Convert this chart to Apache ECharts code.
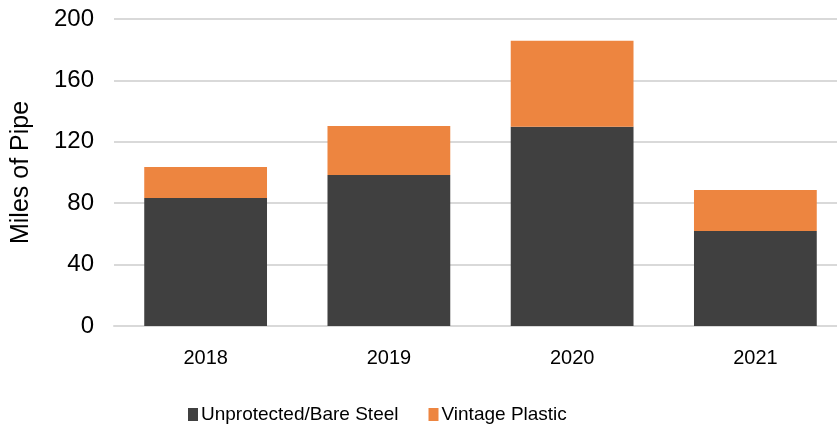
<!DOCTYPE html>
<html lang="en">
<head>
    <meta charset="UTF-8">
    <title>Miles of Pipe</title>
    <script src="https://cdn.jsdelivr.net/npm/echarts@6/dist/echarts.min.js"></script>
    <style>
        html, body { margin: 0; padding: 0; background: #fff; overflow: hidden; }
        /* plot runs past the right edge in the original, so the canvas is a bit wider than the window */
        #chart { width: 847px; height: 426px; }
    </style>
</head>
<body>
<div id="chart"></div>
<script>
    // data
    var years = ['2018', '2019', '2020', '2021'];
    var bareSteel = [83.4, 98.4, 129.8, 61.9];
    var vintagePlastic = [20.2, 31.9, 56.1, 26.7];
    var yTicks = [0, 40, 80, 120, 160, 200];

    var font = 'Liberation Sans, Arial, sans-serif';
    var chart = echarts.init(document.getElementById('chart'));

    var option = {
        animation: false,
        color: ['#404040', '#ed8540'],
        textStyle: { fontFamily: font, color: '#000' },
        grid: { left: 114, top: 19, right: 0, bottom: 100 },
        legend: {
            left: 183,
            top: 400,
            itemWidth: 10,
            itemHeight: 13,
            itemGap: 30,
            icon: 'rect',
            textStyle: { fontSize: 19, color: '#000', padding: [0, 0, 0, -2] },
            data: ['Unprotected/Bare Steel', 'Vintage Plastic']
        },
        xAxis: {
            type: 'category',
            data: years,
            axisTick: { show: false },
            axisLine: { lineStyle: { color: '#d9d9d9', width: 2 } },
            axisLabel: { fontSize: 20, color: '#000', margin: 22 }
        },
        yAxis: {
            type: 'value',
            min: yTicks[0],
            max: yTicks[yTicks.length - 1],
            interval: 40,
            name: 'Miles of Pipe',
            nameLocation: 'middle',
            nameGap: 80,
            nameTextStyle: { fontSize: 25, color: '#000' },
            axisLine: { show: false },
            axisTick: { show: false },
            splitLine: { lineStyle: { color: '#d9d9d9', width: 2 } },
            axisLabel: { fontSize: 24, color: '#000', margin: 20 }
        },
        series: [
            {
                name: 'Unprotected/Bare Steel',
                type: 'bar',
                stack: 'pipe',
                barWidth: '67%',
                data: bareSteel
            },
            {
                name: 'Vintage Plastic',
                type: 'bar',
                stack: 'pipe',
                barWidth: '67%',
                data: vintagePlastic
            }
        ]
    };
    chart.setOption(option);
</script>
</body>
</html>
